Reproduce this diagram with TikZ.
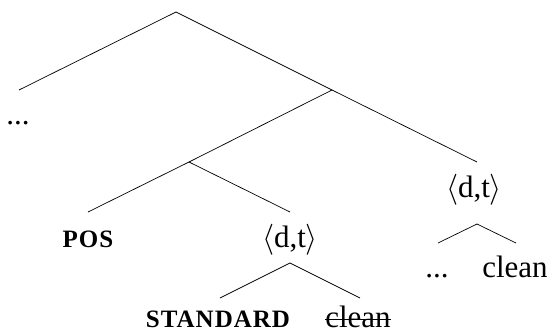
\RequirePackage{fix-cm}
\documentclass[tikz,border=0pt]{standalone}
\usepackage{fontspec}
\setmainfont{Liberation Serif}
\newfontfamily\scfont[LetterSpace=4]{Liberation Serif}
\begin{document}
\begin{tikzpicture}[x=1bp,y=-1bp,
  edge/.style={line width=0.7bp},
  strike/.style={line width=1bp},
  lab/.style={inner sep=0pt,anchor=base,font=\fontsize{31bp}{36bp}\selectfont},
  sclab/.style={inner sep=0pt,anchor=base,font=\scfont\bfseries\fontsize{25bp}{29bp}\selectfont}]
\useasboundingbox (0,0) rectangle (551,334);
% branch points and line ends
\coordinate (root) at (176,12);
\coordinate (lend) at (19,90);
\coordinate (m) at (332,90);
\coordinate (rend) at (477,162);
\coordinate (n) at (189,162);
\coordinate (nl) at (88,212);
\coordinate (nr) at (290,212);
\coordinate (dt1top) at (290,263);
\coordinate (sl) at (220,298);
\coordinate (sr) at (360,298);
\coordinate (dt2top) at (477,224);
\coordinate (cl) at (438,243);
\coordinate (cr) at (516,243);
% labels
\node[lab] (dots1) at (18,124) {...};
\node[lab] (dt2) at (474,197) {$\langle$d,t$\rangle$};
\node[sclab] (pos) at (88,247) {POS};
\node[lab] (dt1) at (290,247) {$\langle$d,t$\rangle$};
\node[sclab] (std) at (218,327) {STANDARD};
\node[lab] (clean1) at (358,327) {clean};
\node[lab] (dots2) at (437,277) {...};
\node[lab] (clean2) at (515,277) {clean};
% strike-through of the deleted word
\draw[strike] ([yshift=8bp]clean1.base west) -- ([yshift=8bp]clean1.base east);
% edges
\draw[edge] (lend) -- (root) -- (m);
\draw[edge] (m) -- (rend);
\draw[edge] (m) -- (n);
\draw[edge] (nl) -- (n) -- (nr);
\draw[edge] (sl) -- (dt1top) -- (sr);
\draw[edge] (cl) -- (dt2top) -- (cr);
\end{tikzpicture}
\end{document}
